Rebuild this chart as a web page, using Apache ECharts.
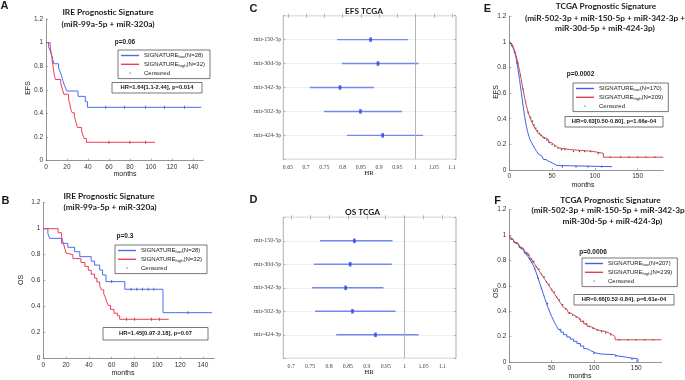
<!DOCTYPE html>
<html><head><meta charset="utf-8">
<script src="https://cdn.jsdelivr.net/npm/echarts@6/dist/echarts.min.js"></script>
<style>html,body{margin:0;padding:0;background:#fff}#c{width:685px;height:380px}</style>
</head><body><div id="c"></div>
<script>
// ---------------- DATA ----------------
// Kaplan-Meier curves: [months, survival]
const kmA_low = [[0,1],[2.5,0.964],[4,0.929],[5.5,0.893],[6.5,0.857],[7.5,0.821],[12,0.786],[13.5,0.75],[15,0.714],[16,0.679],[17.5,0.643],[19,0.607],[20,0.59],[30.5,0.545],[37.5,0.5],[39.5,0.452],[148,0.452]];
const kmA_high = [[0,1],[4,0.969],[4.5,0.938],[5,0.906],[5.5,0.875],[6,0.844],[6.5,0.813],[7,0.781],[7.5,0.75],[8,0.719],[9,0.688],[14,0.656],[15,0.625],[16,0.594],[17,0.563],[21.5,0.531],[22,0.5],[23,0.469],[23.5,0.438],[25,0.406],[27,0.375],[28,0.344],[29,0.313],[30,0.281],[34,0.25],[35,0.219],[36.5,0.188],[38.5,0.156],[104,0.156]];
const censA_low = [57,75,95,113,132];
const censA_high = [60,80,95];

const kmB_low = [[0,1],[4,0.964],[5.5,0.926],[16,0.887],[21.5,0.857],[27.5,0.823],[32,0.785],[42,0.75],[45,0.72],[49.5,0.682],[52,0.644],[55,0.593],[71.5,0.534],[105,0.354],[148,0.354]];
const kmB_high = [[0,1],[13,0.969],[16,0.938],[17,0.906],[18,0.875],[19,0.844],[20,0.813],[21,0.8],[26,0.77],[33,0.74],[36.5,0.71],[39.5,0.68],[42,0.65],[45,0.62],[47,0.59],[49.5,0.56],[51,0.53],[53,0.5],[54.5,0.47],[55.5,0.44],[57,0.41],[59,0.38],[62,0.35],[65,0.33],[67,0.303],[110,0.303]];
const censB_low = [60,77,82,87,92,97,127];
const censB_high = [73,80,95,102];

const kmE_low = [[0,1],[1,0.99],[2,0.98],[3,0.97],[4,0.96],[5,0.945],[6,0.925],[7,0.9],[8,0.87],[9,0.835],[10,0.795],[11,0.75],[12,0.705],[13,0.655],[14,0.605],[15,0.555],[16,0.505],[17,0.46],[18,0.415],[19,0.375],[20,0.34],[21,0.31],[22,0.285],[23,0.262],[24,0.24],[26,0.215],[28,0.19],[30,0.165],[32,0.145],[34,0.125],[36,0.11],[38,0.095],[40,0.082],[43,0.068],[46,0.056],[50,0.045],[53,0.035],[56,0.026],[120,0.026]];
const kmE_high = [[0,1],[1,0.995],[2,0.985],[3,0.975],[4,0.965],[5,0.95],[6,0.935],[7,0.915],[8,0.89],[9,0.865],[10,0.835],[11,0.805],[12,0.775],[13,0.74],[14,0.705],[15,0.67],[16,0.63],[17,0.595],[18,0.56],[19,0.53],[20,0.5],[21,0.475],[22,0.45],[23,0.43],[24,0.41],[26,0.38],[28,0.35],[30,0.325],[32,0.305],[34,0.285],[36,0.27],[38,0.26],[40,0.25],[43,0.235],[46,0.215],[49,0.2],[52,0.185],[55,0.172],[58,0.16],[70,0.145],[98,0.13],[110,0.1],[180,0.1]];
const censE_low = [3,6,9,62,78,92,108];
const censE_high = [2,4,7,10,13,16,19,22,25,27,29,31,33,35,37,39,41,44,47,50,53,57,61,65,75,82,88,95,104,118,130,140,150,160,170];

const kmF_low = [[0,1],[1,0.98],[2,0.968],[4,0.955],[6,0.945],[8,0.935],[10,0.92],[12,0.905],[14,0.893],[16,0.878],[18,0.862],[20,0.846],[22,0.83],[24,0.81],[26,0.79],[28,0.765],[30,0.735],[32,0.7],[34,0.66],[36,0.62],[38,0.58],[40,0.54],[42,0.5],[44,0.46],[46,0.425],[48,0.39],[50,0.36],[52,0.33],[54,0.305],[56,0.28],[58,0.255],[61,0.235],[64,0.215],[68,0.197],[72,0.18],[76,0.163],[80,0.145],[84,0.125],[88,0.105],[92,0.09],[96,0.078],[100,0.068],[104,0.062],[110,0.058],[124,0.048],[128,0.036],[140,0.024],[152,0]];
const kmF_high = [[0,1],[1,0.98],[2,0.968],[4,0.955],[6,0.945],[8,0.935],[10,0.922],[12,0.91],[14,0.897],[16,0.884],[18,0.87],[20,0.857],[22,0.843],[24,0.828],[26,0.81],[28,0.79],[30,0.77],[32,0.75],[34,0.73],[36,0.71],[38,0.69],[40,0.67],[42,0.65],[44,0.63],[46,0.61],[48,0.59],[50,0.57],[52,0.55],[54,0.53],[56,0.51],[58,0.49],[60,0.47],[62,0.45],[64,0.43],[66,0.415],[68,0.4],[70,0.385],[73,0.37],[76,0.355],[80,0.34],[84,0.32],[88,0.3],[92,0.28],[96,0.265],[100,0.25],[106,0.24],[114,0.228],[118,0.215],[122,0.2],[125,0.175],[180,0.175]];
const censF_low = [3,6,9,12,15,18,21,24,27,30,34,38,45,60,100,126,145];
const censF_high = [2,5,8,11,14,17,20,23,26,29,32,35,38,41,44,47,50,53,56,59,63,67,71,75,79,83,87,91,95,99,104,109,114,120,130,140,150,160,170];

// Forest plots
const forestLabels = ['mir-150-5p','mir-30d-5p','mir-342-3p','mir-502-3p','mir-424-3p'];
const C_hr = [0.877,0.897,0.793,0.849,0.910];
const C_lo = [0.785,0.798,0.710,0.749,0.812];
const C_hi = [0.980,1.008,0.886,0.963,1.021];
const D_hr = [0.867,0.856,0.844,0.862,0.923];
const D_lo = [0.776,0.760,0.755,0.763,0.819];
const D_hi = [0.968,0.966,0.944,0.976,1.037];
const C_ticks = [0.65,0.7,0.75,0.8,0.85,0.9,0.95,1,1.05,1.1];
const D_ticks = [0.7,0.75,0.8,0.85,0.9,0.95,1,1.05,1.1];

// Text
const legendN = {A:[28,32], B:[28,32], E:[170,209], F:[207,239]};
const pTexts = {A:'p=0.06', B:'p=0.3', E:'p=0.0002', F:'p=0.0006'};
const hrTexts = {A:'HR=1.64[1.1-2.44], p=0.014', B:'HR=1.45[0.97-2.18], p=0.07', E:'HR=0.63[0.50-0.80], p=1.66e-04', F:'HR=0.66[0.52-0.84], p=6.61e-04'};

// ---------------- CHART ----------------
const SANS = '"Liberation Sans", Arial, sans-serif';
const SERIF = '"Liberation Serif", serif';
const TF = 'Lato, "Liberation Sans", sans-serif';
function valAt(curve, t){ let v = curve[0][1]; for (const p of curve){ if (p[0] <= t) v = p[1]; else break; } return v; }
function cens(curve, times){ return times.map(t => [t, valAt(curve, t)]); }

const grids = [
  {left:46, top:19, width:157.3, height:141.7},     // A
  {left:43.3, top:202.7, width:171, height:156},    // B
  {left:509.3, top:16.2, width:154, height:153.8},  // E
  {left:509.3, top:209.6, width:152.3, height:152.4}, // F
  {left:283.3, top:15.7, width:172.7, height:143.6, show:true, borderColor:'#9a9a9a', borderWidth:0.8}, // C
  {left:283.3, top:217.3, width:172.7, height:141, show:true, borderColor:'#9a9a9a', borderWidth:0.8}  // D
];
const axCol = '#7a7a7a';
function kmX(gi, max, interval){
  return {type:'value', gridIndex:gi, min:0, max:max, interval:interval,
    axisLine:{show:true, lineStyle:{color:axCol, width:0.8}},
    axisTick:{show:true, inside:true, length:2, lineStyle:{color:axCol, width:0.6}},
    axisLabel:{fontSize:6.5, color:'#333', fontFamily:SANS, margin:3, showMaxLabel:false},
    splitLine:{show:false}};
}
function kmY(gi){
  return {type:'value', gridIndex:gi, min:0, max:1.2, interval:0.2,
    axisLine:{show:true, lineStyle:{color:axCol, width:0.8}},
    axisTick:{show:true, inside:true, length:2, lineStyle:{color:axCol, width:0.6}},
    axisLabel:{fontSize:6.5, color:'#333', fontFamily:SANS, margin:3},
    splitLine:{show:false}};
}
function fX(gi, min, max, ticks, pos){
  return {type:'value', gridIndex:gi, min:min, max:max, position:pos,
    axisLine:{show:false},
    axisTick:{show:true, inside:true, length:2, customValues:ticks, lineStyle:{color:'#888', width:0.6}},
    axisLabel:{show:pos==='bottom', customValues:ticks, fontSize:5.8, color:'#444', fontFamily:SERIF, margin:5},
    splitLine:{show:false}};
}
function fY(gi, pos){
  return {type:'value', gridIndex:gi, min:0, max:6, interval:1, inverse:true, position:pos,
    axisLine:{show:false},
    axisTick:{show:true, inside:true, length:2, lineStyle:{color:'#888', width:0.6}},
    axisLabel:{show:pos==='left', fontSize:6, color:'#444', fontFamily:SERIF, margin:2,
      formatter: v => forestLabels[v-1] || ''},
    splitLine:{show:pos==='left', lineStyle:{color:'#ececec', width:0.8}}};
}
const xAxes = [kmX(0,150,20), kmX(1,150,20), kmX(2,180,50), kmX(3,180,50),
  fX(4,0.6375,1.111,C_ticks,'bottom'), fX(4,0.6375,1.111,C_ticks,'top'),
  fX(5,0.679,1.136,D_ticks,'bottom'), fX(5,0.679,1.136,D_ticks,'top')];
const yAxes = [kmY(0), kmY(1), kmY(2), kmY(3), fY(4,'left'), fY(4,'right'), fY(5,'left'), fY(5,'right')];

const series = [];
function kmSeries(P, gi, low, high, cl, ch, blue, red, censSize){
  series.push({type:'line', name:P+'_low', xAxisIndex:gi, yAxisIndex:gi, data:low, step:'end', symbol:'none', color:blue, lineStyle:{width:1}, silent:true});
  series.push({type:'line', name:P+'_high', xAxisIndex:gi, yAxisIndex:gi, data:high, step:'end', symbol:'none', color:red, lineStyle:{width:1}, silent:true});
  series.push({type:'scatter', name:P+'_cens', xAxisIndex:gi, yAxisIndex:gi, data:cens(low,cl).concat(cens(high,ch)), symbol:'rect', symbolSize:censSize, color:'#222', silent:true});
}
kmSeries('A',0,kmA_low,kmA_high,censA_low,censA_high,'#4a6cf2','#f03c55',[0.8,3]);
kmSeries('B',1,kmB_low,kmB_high,censB_low,censB_high,'#4a6cf2','#f03c55',[0.8,3]);
kmSeries('E',2,kmE_low,kmE_high,censE_low,censE_high,'#3d5ff2','#d8434f',[1.2,1.6]);
kmSeries('F',3,kmF_low,kmF_high,censF_low,censF_high,'#3d5ff2','#d8434f',[1.2,1.6]);

function forest(gi, axi, hr, lo, hi){
  series.push({type:'custom', xAxisIndex:axi, yAxisIndex:axi, silent:true,
    data: lo.map((l,i) => [l, hi[i], i+1]),
    encode:{x:[0,1], y:2},
    renderItem: (params, api) => {
      const p1 = api.coord([api.value(0), api.value(2)]);
      const p2 = api.coord([api.value(1), api.value(2)]);
      return {type:'line', shape:{x1:p1[0], y1:p1[1], x2:p2[0], y2:p2[1]}, style:{stroke:'#6f8af2', lineWidth:1.4}};
    },
    markLine:{silent:true, symbol:'none', label:{show:false}, lineStyle:{color:'#a8adb8', type:'solid', width:0.9}, data:[{xAxis:1}]}
  });
  series.push({type:'scatter', xAxisIndex:axi, yAxisIndex:axi, silent:true,
    data: hr.map((h,i) => [h, i+1]), symbol:'rect', symbolSize:[2.6,4.5], color:'#2040e0'});
}
forest(4, 4, C_hr, C_lo, C_hi);
forest(5, 6, D_hr, D_lo, D_hi);

function legend(P, left, top){
  const n = legendN[P];
  return {left:left, top:top, orient:'vertical', itemWidth:18, itemHeight:1.4, itemGap:2.3,
    padding:[2.5,5,2.5,3], borderColor:'#555', borderWidth:0.8, backgroundColor:'#fff', selectedMode:false,
    data:[{name:P+'_low', icon:'rect'},{name:P+'_high', icon:'rect'},{name:P+'_cens', icon:'circle'}],
    formatter: nm => nm.endsWith('_low') ? 'SIGNATURE{s|low}(N='+n[0]+')' : nm.endsWith('_high') ? 'SIGNATURE{s|high}(N='+n[1]+')' : 'Censored',
    textStyle:{fontSize:6, fontFamily:SANS, color:'#222', rich:{s:{fontSize:4.2, fontFamily:SANS, color:'#222', verticalAlign:'bottom', padding:[3,0,0,0]}}}
  };
}
const legends = [legend('A',118,50), legend('B',115,245), legend('E',573,83), legend('F',582,258)];

// ---- annotations ----
const g = [];
function txt(x, y, s, font, opt){
  const o = Object.assign({type:'text', x:x, y:y, silent:true, style:{text:s, font:font, fill:'#1a1a1a',
    textAlign:'center', textVerticalAlign:'middle', align:'center', verticalAlign:'middle'}}, opt||{});
  g.push(o);
}
function box(x, y, w, h, s, font){
  g.push({type:'rect', silent:true, shape:{x:x, y:y, width:w, height:h}, style:{fill:'#fff', stroke:'#555', lineWidth:0.8}});
  txt(x+w/2, y+h/2, s, font);
}
// panel letters
const LF = 'bold 11px ' + SANS;
txt(4.5, 6, 'A', LF); txt(5.5, 201, 'B', LF); txt(253.5, 9, 'C', LF); txt(253.5, 200, 'D', LF); txt(487.5, 9, 'E', LF); txt(497.5, 201, 'F', LF);
// titles
const TT = 'bold 8.3px ' + TF;
txt(108, 12.7, 'IRE Prognostic Signature', TT); txt(108, 24, '(miR-99a-5p + miR-320a)', TT);
txt(109, 196.7, 'IRE Prognostic Signature', TT); txt(110, 207.5, '(miR-99a-5p + miR-320a)', TT);
txt(364, 11.7, 'EFS TCGA', TT); txt(362.5, 212.7, 'OS TCGA', TT);
txt(606, 6.7, 'TCGA Prognostic Signature', TT); txt(605, 18.3, '(miR-502-3p + miR-150-5p + miR-342-3p +', TT); txt(605, 28.5, 'miR-30d-5p + miR-424-3p)', TT);
txt(610.5, 200, 'TCGA Prognostic Signature', TT); txt(611.5, 210.7, '(miR-502-3p + miR-150-5p + miR-342-3p +', TT); txt(612.5, 220.9, 'miR-30d-5p + miR-424-3p)', TT);
// axis names
const AN = '7px ' + SANS;
txt(28.5, 88, 'EFS', AN, {rotation:Math.PI/2}); txt(125, 174, 'months', AN);
txt(21, 280, 'OS', AN, {rotation:Math.PI/2}); txt(123, 373, 'months', AN);
txt(369, 173, 'HR', '7px ' + SERIF); txt(369, 372, 'HR', '7px ' + SERIF);
txt(496, 92, 'EFS', AN, {rotation:Math.PI/2}); txt(583, 185, 'months', AN);
txt(496, 293, 'OS', AN, {rotation:Math.PI/2}); txt(580, 376.5, 'months', AN);
// p-values
const PF = 'bold 6.5px ' + SANS;
txt(125, 42.3, pTexts.A, PF); txt(125, 236.7, pTexts.B, PF); txt(580.5, 74, pTexts.E, PF); txt(593, 252, pTexts.F, PF);
// HR boxes
const HF = 'bold 5.8px ' + SANS;
box(112, 82.5, 90, 10.5, hrTexts.A, HF);
box(103, 327.5, 105, 12.5, hrTexts.B, HF);
box(565, 116.5, 98, 10.5, hrTexts.E, HF);
box(574, 294.5, 100, 10.5, hrTexts.F, HF);

const chart = echarts.init(document.getElementById('c'), null, {renderer:'canvas'});
chart.setOption({
  animation:false, backgroundColor:'#fff',
  grid:grids, xAxis:xAxes, yAxis:yAxes, series:series, legend:legends, graphic:{elements:g}
});
</script>
</body></html>
